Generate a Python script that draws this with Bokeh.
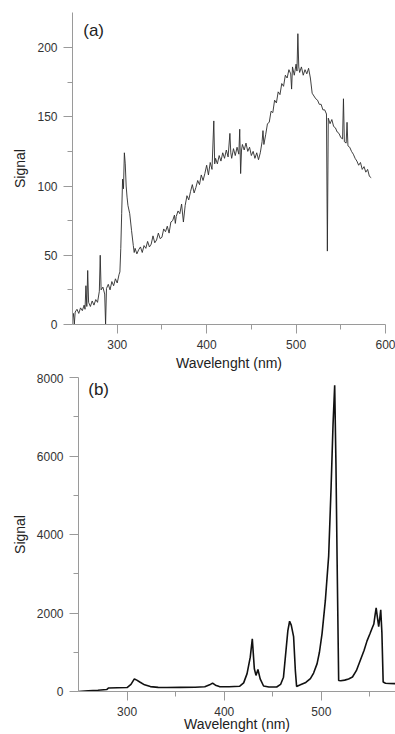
from bokeh.plotting import figure
from bokeh.models import FixedTicker, Label, Range1d
from bokeh.embed import file_html
from bokeh.resources import INLINE

# ---- Panel (a) data ----
wl_a = [250, 251, 252, 253, 255, 257, 259, 261, 263, 264, 265, 266, 267, 268, 270, 272, 274, 276, 278,
        280, 281, 282, 284, 286, 287, 288, 290, 292, 294, 296, 298, 300, 302, 303, 304, 305, 306, 307,
        308, 309, 310, 311, 312, 314, 316, 318, 319, 320, 322, 324, 326, 328, 330, 332, 334, 336, 338,
        340, 342, 344, 346, 348, 350, 352, 354, 356, 358, 360, 362, 364, 365, 366, 368, 370, 372, 374,
        376, 378, 380, 382, 384, 386, 388, 390, 392, 394, 396, 398, 400, 402, 404, 406, 408, 409, 410,
        412, 414, 416, 418, 420, 422, 424, 426, 427, 428, 430, 432, 434, 436, 437, 438, 439, 440, 442,
        444, 446, 448, 450, 452, 454, 456, 458, 460, 462, 463, 464, 466, 468, 470, 472, 474, 476, 478,
        480, 482, 484, 486, 488, 490, 492, 494, 495, 496, 498, 500, 501, 502, 503, 504, 506, 508, 510,
        512, 514, 516, 518, 520, 522, 524, 526, 528, 530, 532, 534, 535, 536, 538, 540, 542, 544, 546,
        548, 550, 552, 553, 554, 556, 557, 558, 560, 562, 564, 566, 568, 570, 572, 574, 576, 578, 580,
        582, 584]
sig_a = [5, 8, 0, 9, 11, 8, 12, 10, 14, 11, 28, 13, 39, 16, 13, 17, 14, 18, 16,
         24, 50, 25, 27, 22, 0, 26, 29, 25, 31, 28, 33, 30, 36, 38, 55, 80, 105, 98,
         124, 116, 100, 92, 86, 80, 68, 57, 52, 55, 51, 54, 56, 52, 57, 55, 60, 56, 58,
         64, 59, 61, 66, 62, 63, 69, 67, 71, 66, 74, 75, 79, 73, 78, 82, 80, 87, 74,
         86, 93, 90, 96, 101, 95, 99, 104, 101, 108, 104, 109, 115, 108, 117, 112, 147, 116, 120,
         116, 122, 118, 124, 120, 126, 121, 138, 124, 120, 127, 122, 128, 123, 141, 109, 126, 130, 126,
         131, 125, 128, 122, 125, 120, 124, 119, 124, 132, 140, 130, 137, 145, 146, 154, 153, 162, 160,
         168, 166, 174, 172, 180, 178, 184, 181, 170, 186, 180, 188, 183, 210, 186, 182, 186, 180, 184,
         181, 185, 178, 167, 165, 163, 162, 159, 159, 155, 155, 152, 53, 149, 145, 148, 143, 142, 139,
         138, 135, 134, 163, 132, 131, 146, 129, 128, 125, 123, 120, 118, 115, 117, 112, 114, 110, 112,
         107, 106]

# ---- Panel (b) data ----
wl_b = [250, 260, 270, 279, 281, 290, 300, 304, 307.5, 310, 313.5, 318, 324, 332, 341, 355, 370, 380,
        385, 388, 391, 395, 405, 416, 420, 423.5, 426.8, 428.9, 431, 432.7, 434.7, 437, 440.5, 446,
        454, 458, 461, 463.9, 465.5, 467.3, 469, 471.4, 473.2, 474.5, 478.4, 484, 488.7, 492, 495.6,
        498, 500.7, 504.1, 507.5, 510, 512, 513.7, 515, 516.2, 517.8, 520, 524, 528, 532, 536, 540,
        544, 547, 550, 552, 554, 555.3, 556.4, 557.6, 559, 560.2, 561.1, 562.3, 563.6, 566, 570, 576, 580]
sig_b = [0, 15, 30, 50, 90, 95, 100, 180, 320, 290, 235, 170, 125, 105, 100, 105, 110, 120,
         170, 215, 160, 125, 120, 135, 220, 455, 875, 1340, 580, 410, 560, 320, 140, 115,
         115, 180, 365, 1130, 1550, 1790, 1690, 1400, 535, 130, 170, 230, 330, 470, 710,
         1000, 1475, 2320, 3450, 5200, 6800, 7800, 5800, 3340, 280, 275, 290, 320, 370, 530, 790,
         1050, 1290, 1470, 1600, 1720, 1950, 2130, 1900, 1655, 1880, 2080, 1500, 240, 210, 205, 200, 195]

ticks_xa = [300, 400, 500, 600]
minor_xa = [350, 450, 550]
ticks_ya = [0, 50, 100, 150, 200]
minor_ya = [25, 75, 125, 175]
ticks_xb = [300, 400, 500]
minor_xb = [350, 450, 550]
ticks_yb = [0, 2000, 4000, 6000, 8000]
minor_yb = [1000, 3000, 5000, 7000]

FONT = "Liberation Sans"
AXIS_COL = "#9a9a9a"


def style(p, xlabel_standoff):
    p.outline_line_color = None
    p.xgrid.visible = False
    p.ygrid.visible = False
    p.background_fill_color = "white"
    p.border_fill_color = "white"
    for ax in (p.xaxis[0], p.yaxis[0]):
        ax.axis_line_color = AXIS_COL
        ax.axis_line_width = 1
        ax.major_tick_line_color = AXIS_COL
        ax.major_tick_line_width = 1
        ax.minor_tick_line_color = AXIS_COL
        ax.minor_tick_line_width = 1
        ax.major_tick_out = 9
        ax.major_tick_in = 0
        ax.minor_tick_out = 5
        ax.minor_tick_in = 0
        ax.major_label_text_font = FONT
        ax.major_label_text_font_size = "12px"
        ax.major_label_text_color = "#333333"
        ax.major_label_standoff = 6
        ax.axis_label_text_font = FONT
        ax.axis_label_text_font_size = "14px"
        ax.axis_label_text_font_style = "normal"
        ax.axis_label_text_color = "#222222"
        ax.axis_label_standoff = 6
    p.xaxis[0].axis_label_standoff = xlabel_standoff


pa = figure(width=395, height=373, output_backend="svg", toolbar_location=None,
            x_range=Range1d(250, 600), y_range=Range1d(0, 225.3),
            min_border_left=72, min_border_right=10, min_border_top=12, min_border_bottom=49)
pa.line(wl_a, sig_a, line_color="#2b2b2b", line_width=0.9)
style(pa, 3)
pa.xaxis.ticker = FixedTicker(ticks=ticks_xa, minor_ticks=minor_xa)
pa.yaxis.ticker = FixedTicker(ticks=ticks_ya, minor_ticks=minor_ya)
pa.xaxis.axis_label = "Wavelenght (nm)"
pa.yaxis.axis_label = "Signal"
pa.add_layout(Label(x=262, y=212, text="(a)", text_font=FONT, text_font_size="17px",
                    text_color="#222222", text_baseline="middle", text_align="left"))

pb = figure(width=395, height=361, output_backend="svg", toolbar_location=None,
            x_range=Range1d(250, 576.3), y_range=Range1d(0, 8000),
            min_border_left=78, min_border_right=0, min_border_top=4, min_border_bottom=43)
pb.line(wl_b, sig_b, line_color="#111111", line_width=1.6)
style(pb, -3)
pb.xaxis.ticker = FixedTicker(ticks=ticks_xb, minor_ticks=minor_xb)
pb.yaxis.ticker = FixedTicker(ticks=ticks_yb, minor_ticks=minor_yb)
pb.xaxis.axis_label = "Wavelenght (nm)"
pb.yaxis.axis_label = "Signal"
pb.add_layout(Label(x=260, y=7700, text="(b)", text_font=FONT, text_font_size="17px",
                    text_color="#222222", text_baseline="middle", text_align="left"))

open("out.html", "w").write(file_html([pa, pb], INLINE))
